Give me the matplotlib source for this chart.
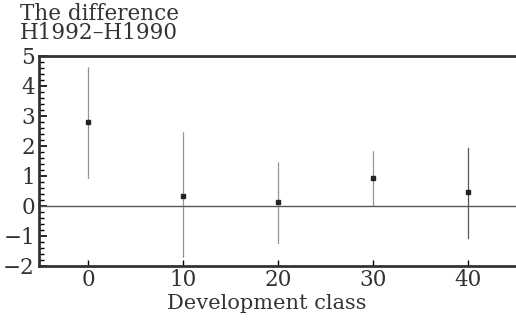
import matplotlib
matplotlib.use("Agg")
import matplotlib.pyplot as plt
from matplotlib.ticker import MultipleLocator

classes = [0, 10, 20, 30, 40]
means = [2.79, 0.33, 0.14, 0.94, 0.46]
lower = [0.93, -1.69, -1.24, 0.0, -1.08]
upper = [4.64, 2.46, 1.48, 1.85, 1.92]
styles = [":", ":", ":", ":", "-"]

plt.rcParams['font.family'] = ['DejaVu Serif']
fig = plt.figure(figsize=(5.16, 3.25), dpi=100)
ax = fig.add_axes([39/516, 59/325, 1 - 39/516, 210/325])

for x, m, lo, hi, ls in zip(classes, means, lower, upper, styles):
    ax.plot([x, x], [lo, hi], color="#555555", lw=0.9, ls=ls, dashes=(1, 0.6) if ls == ":" else (None, None))
    ax.plot([x], [m], marker="s", ms=2.5, color="#222222", ls="none")

ax.axhline(0, color="#555555", lw=1.0)

ax.set_xlim(-5.15, 45)
ax.set_ylim(-2, 5)
ax.set_xticks([0, 10, 20, 30, 40])
ax.yaxis.set_major_locator(MultipleLocator(1))
ax.yaxis.set_minor_locator(MultipleLocator(0.2))
ax.tick_params(axis="y", which="major", direction="in", length=6, width=1.2, labelsize=15.5, pad=3, labelcolor="#333333")
ax.tick_params(axis="y", which="minor", direction="in", length=3.5, width=1.0)
ax.tick_params(axis="x", which="major", direction="in", length=4, width=1.0, labelsize=15.5, pad=2, labelcolor="#333333")
ax.spines["right"].set_visible(False)
for s in ["left", "top", "bottom"]:
    ax.spines[s].set_linewidth(2.0)
    ax.spines[s].set_color("#333333")

fig.text(267/516, 1 - 294/325, "Development class", ha="center", va="top",
         fontsize=15, color="#333333")
fig.text(20/516, 1 - 3/325, "The difference\nH1992\u2013H1990", ha="left", va="top",
         fontsize=15.5, linespacing=0.85, color="#333333")

fig.savefig("out.png", dpi=100)
